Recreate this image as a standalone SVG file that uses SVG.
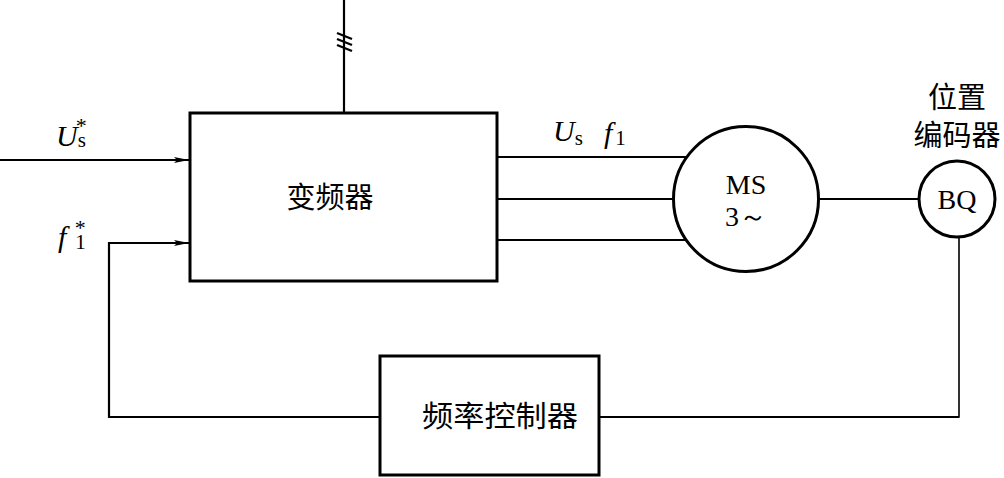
<svg xmlns="http://www.w3.org/2000/svg" width="1004" height="478" viewBox="0 0 1004 478">
<style>
.box{fill:#fff;stroke:#000;stroke-width:3}
.ln{fill:none;stroke:#000;stroke-width:2.2}
.cn{font-family:"Noto Sans CJK SC","Noto Sans CJK JP",sans-serif;font-size:29px;fill:#000;text-anchor:middle}
.lt{font-family:"Liberation Serif","Times New Roman",serif;fill:#000}
.it{font-style:italic}
</style>
<defs>
<marker id="arr" markerWidth="16" markerHeight="8" refX="15" refY="4" orient="auto" markerUnits="userSpaceOnUse">
<path d="M0,1 L15,4 L0,7 L3,4 Z" fill="#000"/>
</marker>
</defs>
<g id="connectors">
<line class="ln" x1="0" y1="160" x2="189" y2="160" marker-end="url(#arr)"/>
<polyline class="ln" points="379,417 109,417 109,243 189,243" marker-end="url(#arr)"/>
<line class="ln" x1="344" y1="0" x2="344" y2="113"/>
<line class="ln" x1="337" y1="33" x2="352" y2="39"/>
<line class="ln" x1="337" y1="39" x2="352" y2="45"/>
<line class="ln" x1="337" y1="45" x2="352" y2="51"/>
<line class="ln" x1="497" y1="157" x2="686" y2="157"/>
<line class="ln" x1="497" y1="199" x2="673" y2="199"/>
<line class="ln" x1="497" y1="240" x2="686" y2="240"/>
<line class="ln" x1="819" y1="199" x2="919" y2="199"/>
<polyline class="ln" points="599,417 959,417 959,237" style="stroke-width:1.6"/>
<line class="ln" x1="599" y1="417" x2="959" y2="417"/>
</g>
<g id="inverter">
<rect class="box" x="190" y="113" width="307" height="168"/>
<text class="cn" x="330" y="208">变频器</text>
</g>
<g id="freq-controller">
<rect class="box" x="380" y="356" width="219" height="119"/>
<text class="cn" x="500" y="427" textLength="156" lengthAdjust="spacingAndGlyphs">频率控制器</text>
</g>
<g id="motor">
<circle class="box" cx="746" cy="199" r="72.5"/>
<text class="lt" x="746" y="194" font-size="28" text-anchor="middle">MS</text>
<text class="lt" x="746" y="226" font-size="28" text-anchor="middle">3～</text>
</g>
<g id="encoder">
<circle class="box" cx="957" cy="199" r="38"/>
<text class="lt" x="957" y="209" font-size="28" text-anchor="middle">BQ</text>
<text class="cn" x="957" y="108" font-size="27">位置</text>
<text class="cn" x="957" y="146" font-size="27">编码器</text>
</g>
<g id="labels">
<text class="lt" x="56" y="146"><tspan class="it" font-size="30">U</tspan><tspan font-size="21" dy="1">s</tspan><tspan font-size="22" dx="-10" dy="-14">*</tspan></text>
<text class="lt" x="58" y="247"><tspan class="it" font-size="30">f</tspan><tspan font-size="21" dx="9" dy="2">1</tspan><tspan font-size="22" dx="-11" dy="-14">*</tspan></text>
<text class="lt" x="553" y="141"><tspan class="it" font-size="30">U</tspan><tspan font-size="21" dy="4">s</tspan></text>
<text class="lt" x="604" y="143"><tspan class="it" font-size="30">f</tspan><tspan font-size="21" dx="3" dy="2">1</tspan></text>
</g>
</svg>
